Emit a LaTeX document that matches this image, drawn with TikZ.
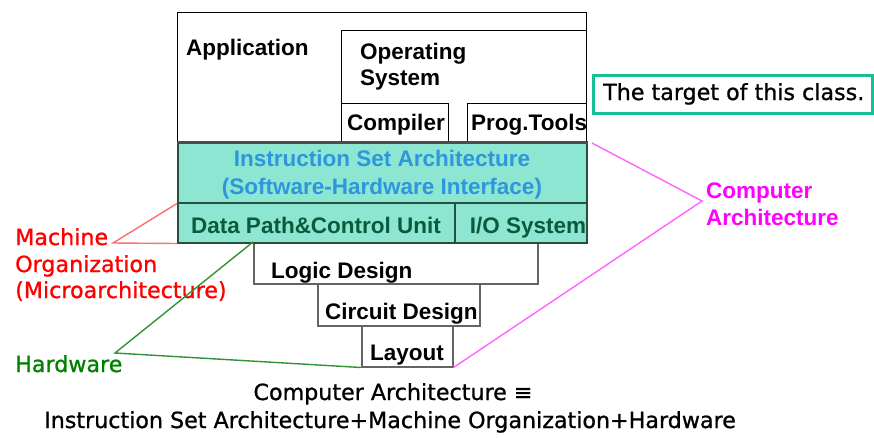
\documentclass[tikz,border=0pt]{standalone}
\usepackage{fontspec}
\setmainfont{Liberation Sans}
\newfontfamily\comic{DejaVu Sans}[FakeBold=1]
\definecolor{isafill}{RGB}{140,230,210}
\definecolor{isaborder}{RGB}{40,80,64}
\definecolor{isablue}{RGB}{46,150,220}
\definecolor{dkgreen}{RGB}{12,90,60}
\definecolor{hwgreen}{RGB}{0,128,0}
\definecolor{hwline}{RGB}{50,145,50}
\definecolor{moline}{RGB}{255,110,110}
\definecolor{caline}{RGB}{255,100,255}
\definecolor{camag}{RGB}{255,0,255}
\definecolor{tealbox}{RGB}{26,190,150}
\definecolor{greybox}{RGB}{100,100,100}
\begin{document}
\begin{tikzpicture}[x=1pt,y=-1pt,
  blk/.style={rectangle, inner sep=0pt, anchor=north west},
  topbox/.style={blk, draw=black, line width=1pt, fill=white},
  lowbox/.style={blk, draw=greybox, line width=1.5pt, fill=white},
  isabox/.style={blk, draw=isaborder, line width=1.5pt, fill=isafill},
  lbl/.style={font=\fontsize{22.5}{25}\selectfont\bfseries, inner sep=0pt, anchor=base west},
  clbl/.style={font=\comic\fontsize{22.2}{25}\selectfont, inner sep=0pt},
  conn/.style={line width=1.4pt}
]
\useasboundingbox (0,0) rectangle (874,437);
% upper software boxes
\node[topbox, minimum width=409pt, minimum height=130pt] (app) at (177,12) {};
\node[topbox, minimum width=245pt, minimum height=112pt] (os) at (341,30) {};
\node[topbox, minimum width=107pt, minimum height=39pt] (comp) at (341,103) {};
\node[topbox, minimum width=119pt, minimum height=39pt] (prog) at (467,103) {};
% lower hardware boxes
\node[lowbox, minimum width=284pt, minimum height=41pt] (logic) at (253,242) {};
\node[lowbox, minimum width=162pt, minimum height=42pt] (circ) at (317,283) {};
\node[lowbox, minimum width=91pt, minimum height=41pt] (lay) at (361,325) {};
% ISA and organization
\node[isabox, minimum width=409pt, minimum height=60pt] (isa) at (177,142) {};
\node[isabox, minimum width=277pt, minimum height=40pt] (dp) at (177,202) {};
\node[isabox, minimum width=132pt, minimum height=40pt] (io) at (454,202) {};
\draw[line width=3pt, draw=black!70] (isa.north west) -- (isa.north east);
% texts in boxes
\node[lbl] (tapp) at (186,55) {Application};
\node[lbl] (tos1) at (360,59) {Operating};
\node[lbl] (tos2) at (360,85) {System};
\node[lbl, anchor=base] (tcomp) at (396,130) {Compiler};
\node[lbl] (tprog) at (471,130) {Prog.Tools};
\node[lbl, anchor=base, text=isablue] (tisa1) at (382,166) {Instruction Set Architecture};
\node[lbl, anchor=base, text=isablue] (tisa2) at (382,194) {(Software-Hardware Interface)};
\node[lbl, anchor=base, text=dkgreen] (tdp) at (316,233) {Data Path\&Control Unit};
\node[lbl, anchor=base, text=dkgreen] (tio) at (528,233) {I/O System};
\node[lbl] (tlogic) at (271,278) {Logic Design};
\node[lbl] (tcirc) at (325,319) {Circuit Design};
\node[lbl] (tlay) at (370,360) {Layout};
% target box
\node[blk, draw=tealbox, line width=2.5pt, minimum width=279pt, minimum height=38pt] (target) at (592,74) {};
\node[clbl, anchor=base west] (ttarget) at (603,100) {The target of this class.};
% computer architecture label
\node[lbl, text=camag] (tca1) at (706,198) {Computer};
\node[lbl, text=camag] (tca2) at (706,225) {Architecture};
\coordinate (caapex) at (702,201);
\coordinate (catop) at (592,143);
\draw[conn, caline] (catop) -- (caapex) -- (lay.south east);
% machine organization
\node[clbl, anchor=base west, text=red] (tmo1) at (15,245) {Machine};
\node[clbl, anchor=base west, text=red] (tmo2) at (15,272) {Organization};
\node[clbl, anchor=base west, text=red] (tmo3) at (15,298) {(Microarchitecture)};
\coordinate (moapex) at (113,243);
\draw[conn, moline] (isa.south west) -- (moapex) -- (dp.south west);
% hardware
\node[clbl, anchor=base west, text=hwgreen] (thw) at (15,372) {Hardware};
\coordinate (hwapex) at (115,353);
\draw[conn, hwline] (logic.north west) -- (hwapex) -- (lay.south west);
% bottom formula
\node[clbl, anchor=base] (tf1) at (393,400) {Computer Architecture ≡};
\node[clbl, anchor=base] (tf2) at (390,428) {Instruction Set Architecture+Machine Organization+Hardware};
\end{tikzpicture}
\end{document}
